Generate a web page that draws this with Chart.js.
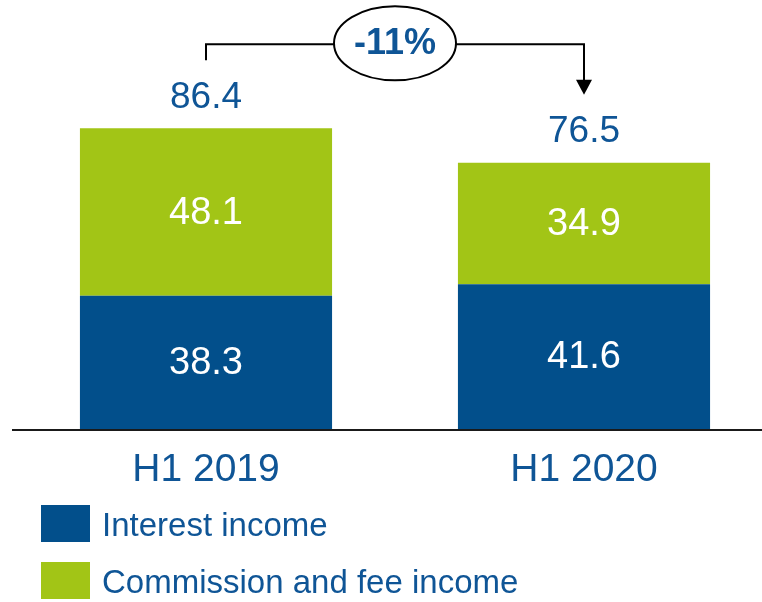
<!DOCTYPE html>
<html>
<head>
<meta charset="utf-8">
<script src="https://cdn.jsdelivr.net/npm/chart.js@4.4.1/dist/chart.umd.min.js"></script>
<style>
  html, body { margin: 0; padding: 0; background: #fff; overflow: hidden; }
  #wrap { width: 773px; height: 602px; position: relative; }
</style>
</head>
<body>
<div id="wrap"><canvas id="income"></canvas></div>
<script>
const PERIODS = ['H1 2019', 'H1 2020'];
const INTEREST = [38.3, 41.6];
const COMMISSION = [48.1, 34.9];
const TOTALS = [86.4, 76.5];
const CHANGE_LABEL = '-11%';
const SERIES_NAMES = ['Interest income', 'Commission and fee income'];

const BLUE = '#024f8b';
const GREEN = '#a2c516';
const TEXT = '#0f5596';
const SANS = '"Liberation Sans", Arial, sans-serif';

// baseline, value labels, change bracket and legend
const overlay = {
  id: 'overlay',
  afterDatasetsDraw(chart) {
    const { ctx, chartArea } = chart;
    const bottomMeta = chart.getDatasetMeta(0);
    const topMeta = chart.getDatasetMeta(1);

    ctx.save();
    // axis line
    ctx.strokeStyle = '#1a1a1a';
    ctx.lineWidth = 2;
    ctx.beginPath();
    ctx.moveTo(12, chartArea.bottom + 1);
    ctx.lineTo(762, chartArea.bottom + 1);
    ctx.stroke();

    // labels inside segments
    ctx.fillStyle = '#fff';
    ctx.font = '38px ' + SANS;
    ctx.textAlign = 'center';
    ctx.textBaseline = 'middle';
    [bottomMeta, topMeta].forEach((meta, di) => {
      const values = chart.data.datasets[di].data;
      meta.data.forEach((bar, i) => {
        ctx.fillText(values[i].toFixed(1), bar.x, (bar.y + bar.base) / 2 + 1);
      });
    });

    // totals above bars
    ctx.fillStyle = TEXT;
    ctx.font = '37px ' + SANS;
    topMeta.data.forEach((bar, i) => {
      ctx.fillText(TOTALS[i].toFixed(1), bar.x, bar.y - 31);
    });

    // change bracket
    const b0 = topMeta.data[0], b1 = topMeta.data[1];
    const yTop = Math.min(b0.y, b1.y) - 84;
    const tipY = b1.y - 68;
    ctx.strokeStyle = '#000';
    ctx.lineWidth = 2;
    ctx.beginPath();
    ctx.moveTo(b0.x, b0.y - 68);
    ctx.lineTo(b0.x, yTop);
    ctx.lineTo(b1.x, yTop);
    ctx.lineTo(b1.x, tipY - 14);
    ctx.stroke();
    ctx.fillStyle = '#000';
    ctx.beginPath();
    ctx.moveTo(b1.x - 8, tipY - 15);
    ctx.lineTo(b1.x + 8, tipY - 15);
    ctx.lineTo(b1.x, tipY);
    ctx.closePath();
    ctx.fill();

    const mx = (b0.x + b1.x) / 2;
    ctx.beginPath();
    ctx.ellipse(mx, yTop - 1, 61, 37, 0, 0, Math.PI * 2);
    ctx.fillStyle = '#fff';
    ctx.fill();
    ctx.stroke();
    ctx.fillStyle = TEXT;
    ctx.font = 'bold 36px ' + SANS;
    ctx.fillText(CHANGE_LABEL, mx, yTop);

    // legend
    ctx.textAlign = 'left';
    ctx.font = '33px ' + SANS;
    chart.data.datasets.forEach((ds, i) => {
      const y = 505 + i * 57;
      ctx.fillStyle = ds.backgroundColor;
      ctx.fillRect(41, y, 49, 37);
      ctx.fillStyle = TEXT;
      ctx.fillText(ds.label, 102, y + 22);
    });
    ctx.restore();
  }
};

new Chart(document.getElementById('income'), {
  type: 'bar',
  data: {
    labels: PERIODS,
    datasets: [
      { label: SERIES_NAMES[0], data: INTEREST, backgroundColor: BLUE, borderWidth: 0 },
      { label: SERIES_NAMES[1], data: COMMISSION, backgroundColor: GREEN, borderWidth: 0 },
    ],
  },
  options: {
    responsive: true,
    maintainAspectRatio: false,
    animation: false,
    layout: { padding: { left: 17, right: 0, top: 81, bottom: 0 } },
    datasets: { bar: { barPercentage: 1, categoryPercentage: 0.667 } },
    plugins: { legend: { display: false }, tooltip: { enabled: false } },
    scales: {
      x: {
        stacked: true,
        grid: { display: false, drawTicks: false },
        border: { display: false },
        ticks: { color: TEXT, font: { family: SANS, size: 39 }, padding: 18 },
        afterFit(scale) { scale.height = 173; },
      },
      y: {
        stacked: true,
        display: false,
        min: 0,
        max: 100,
      },
    },
  },
  plugins: [overlay],
});
</script>
</body>
</html>
